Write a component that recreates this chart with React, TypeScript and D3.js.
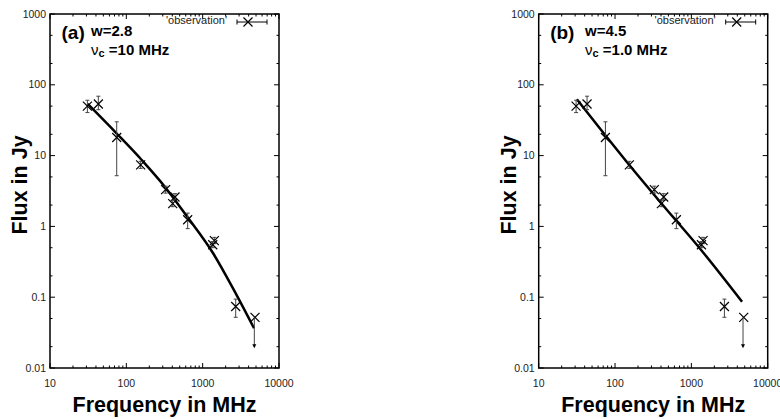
import * as d3 from 'd3';
import React from 'react';

// observed spectrum (MHz, Jy) with error bars
const obsFreq = [30.9, 43, 74.8, 154, 327, 434, 405, 636, 1423, 1355, 2710];
const obsFlux = [50, 53.5, 18, 7.4, 3.3, 2.6, 2.1, 1.24, 0.63, 0.55, 0.074];
const obsLow = [40.5, 44.5, 5.2, 6.6, 2.95, 2.35, 1.9, 0.93, 0.57, 0.5, 0.052];
const obsHigh = [60.5, 69, 30, 8.3, 3.7, 2.9, 2.35, 1.54, 0.7, 0.61, 0.094];

// upper limit point
const limitFreq = [4850];
const limitFlux = [0.052];
const limitArrowFreq = [4750];
const limitArrowTo = [0.019];

// model curves
const modelFreqA = [31.2, 74.8, 159, 321, 618, 1377, 2518, 4710];
const modelFluxA = [53.6, 20.5, 8.67, 3.61, 1.4, 0.414, 0.131, 0.0364];
const modelFreqB = [31.6, 74.1, 150, 411, 1309, 4613];
const modelFluxB = [62.4, 19.5, 7.6, 2.07, 0.48, 0.0863];

const xTicks = [10, 100, 1000, 10000];
const xTickLabels = ['10', '100', '1000', '10000'];
const yTicks = [0.01, 0.1, 1, 10, 100, 1000];
const yTickLabels = ['0.01', '0.1', '1', '10', '100', '1000'];

const panelTags = ['(a)', '(b)'];
const wLabels = ['w=2.8', 'w=4.5'];
const nuLabels = ['=10 MHz', '=1.0 MHz'];
const legendLabel = "'observation'";

const FONT = '"Liberation Sans", Arial, Helvetica, sans-serif';

const top = 14;
const bottom = 368;
const plotW = 229;

type PanelProps = {
  left: number;
  idx: number;
  modelFreq: number[];
  modelFlux: number[];
};

const XMark = ({ cx, cy, r }: { cx: number; cy: number; r: number }) => (
  <path d={`M${cx - r},${cy - r}L${cx + r},${cy + r}M${cx - r},${cy + r}L${cx + r},${cy - r}`} stroke="#000" strokeWidth={1.2} fill="none" />
);

const Panel = ({ left, idx, modelFreq, modelFlux }: PanelProps) => {
  const right = left + plotW;
  const x = d3.scaleLog().domain([10, 10000]).range([left, right]);
  const y = d3.scaleLog().domain([0.01, 1000]).range([bottom, top]);

  const xMinor: number[] = [];
  [10, 100, 1000].forEach((d) => { for (let m = 2; m <= 9; m++) xMinor.push(d * m); });
  const yMinor: number[] = [];
  [0.01, 0.1, 1, 10, 100].forEach((d) => { yMinor.push(d * 2); yMinor.push(d * 5); });

  const line = d3.line<number>()
    .x((_, i) => x(modelFreq[i]))
    .y((d) => y(d))
    .curve(d3.curveMonotoneX);

  const major = 5;
  const minor = 2.5;
  const cx = (left + right) / 2;
  const labelX = idx === 0 ? 91 : 585;
  const legEnd = right - 12;

  return (
    <g>
      {/* ticks */}
      {xTicks.map((t) => (
        <g key={'xt' + t}>
          <line x1={x(t)} x2={x(t)} y1={bottom} y2={bottom - major} stroke="#000" />
          <line x1={x(t)} x2={x(t)} y1={top} y2={top + major} stroke="#000" />
        </g>
      ))}
      {xMinor.map((t) => (
        <g key={'xm' + t}>
          <line x1={x(t)} x2={x(t)} y1={bottom} y2={bottom - minor} stroke="#000" />
          <line x1={x(t)} x2={x(t)} y1={top} y2={top + minor} stroke="#000" />
        </g>
      ))}
      {yTicks.map((t) => (
        <g key={'yt' + t}>
          <line x1={left} x2={left + major} y1={y(t)} y2={y(t)} stroke="#000" />
          <line x1={right} x2={right - major} y1={y(t)} y2={y(t)} stroke="#000" />
        </g>
      ))}
      {yMinor.map((t) => (
        <g key={'ym' + t}>
          <line x1={left} x2={left + minor} y1={y(t)} y2={y(t)} stroke="#000" />
          <line x1={right} x2={right - minor} y1={y(t)} y2={y(t)} stroke="#000" />
        </g>
      ))}

      {/* tick labels */}
      {xTicks.map((t, i) => (
        <text key={'xl' + t} x={x(t)} y={386.5} textAnchor="middle" fontSize={10.5} fill="#222" fontFamily={FONT}>
          {xTickLabels[i]}
        </text>
      ))}
      {yTicks.map((t, i) => (
        <text key={'yl' + t} x={left - 4} y={y(t)} dy="0.35em" textAnchor="end" fontSize={10.5} fill="#222" fontFamily={FONT}>
          {yTickLabels[i]}
        </text>
      ))}

      {/* frame */}
      <rect x={left} y={top} width={plotW} height={bottom - top} fill="none" stroke="#000" strokeWidth={1.5} />

      {/* axis titles */}
      <text x={cx} y={411.5} textAnchor="middle" fontSize={21.5} fontWeight="bold" fontFamily={FONT}>
        Frequency in MHz
      </text>
      <text transform={`translate(${left - 23},185) rotate(-90)`} textAnchor="middle" fontSize={21.5} fontWeight="bold" fontFamily={FONT}>
        Flux in Jy
      </text>

      {/* labels */}
      <text x={left + 11.5} y={38.5} fontSize={19} fontWeight="bold" fontFamily={FONT}>{panelTags[idx]}</text>
      <text x={labelX} y={36} fontSize={15} fontWeight="bold" fontFamily={FONT}>{wLabels[idx]}</text>
      <text x={labelX} y={55} fontSize={15} fontFamily={FONT}>
        <tspan>ν</tspan>
        <tspan fontSize={11} fontWeight="bold" dy={2}>c</tspan>
        <tspan fontWeight="bold" dy={-2}>{' ' + nuLabels[idx]}</tspan>
      </text>

      {/* legend */}
      <text x={legEnd - 40} y={24} textAnchor="end" fontSize={11} fill="#222" fontFamily={FONT}>{legendLabel}</text>
      <line x1={legEnd - 30} x2={legEnd} y1={22} y2={22} stroke="#000" strokeWidth={1} />
      <line x1={legEnd - 30} x2={legEnd - 30} y1={19.5} y2={24.5} stroke="#000" strokeWidth={1} />
      <line x1={legEnd} x2={legEnd} y1={19.5} y2={24.5} stroke="#000" strokeWidth={1} />
      <XMark cx={legEnd - 19} cy={22} r={4.5} />

      {/* model */}
      <path d={line(modelFlux) || ''} fill="none" stroke="#000" strokeWidth={2.5} />

      {/* observations */}
      {obsFreq.map((f, i) => (
        <g key={'o' + i}>
          <line x1={x(f)} x2={x(f)} y1={y(obsLow[i])} y2={y(obsHigh[i])} stroke="#444" strokeWidth={1} />
          <line x1={x(f) - 2} x2={x(f) + 2} y1={y(obsLow[i])} y2={y(obsLow[i])} stroke="#444" strokeWidth={1} />
          <line x1={x(f) - 2} x2={x(f) + 2} y1={y(obsHigh[i])} y2={y(obsHigh[i])} stroke="#444" strokeWidth={1} />
          <XMark cx={x(f)} cy={y(obsFlux[i])} r={4.5} />
        </g>
      ))}

      {/* upper limit */}
      {limitFreq.map((f, i) => {
        const ax = x(limitArrowFreq[i]);
        const ay = y(limitArrowTo[i]);
        return (
          <g key={'lim' + i}>
            <XMark cx={x(f)} cy={y(limitFlux[i])} r={4.5} />
            <line x1={ax} x2={ax} y1={y(limitFlux[i])} y2={ay - 3} stroke="#444" strokeWidth={1} />
            <path d={`M${ax - 2},${ay - 4}L${ax + 2},${ay - 4}L${ax},${ay}Z`} fill="#000" />
          </g>
        );
      })}
    </g>
  );
};

export default function App() {
  return (
    <svg width={780} height={419} style={{ position: 'absolute', left: 0, top: 0, background: '#fff' }}>
      <rect width={780} height={419} fill="#fff" />
      <Panel left={50} idx={0} modelFreq={modelFreqA} modelFlux={modelFluxA} />
      <Panel left={538.7} idx={1} modelFreq={modelFreqB} modelFlux={modelFluxB} />
    </svg>
  );
}
